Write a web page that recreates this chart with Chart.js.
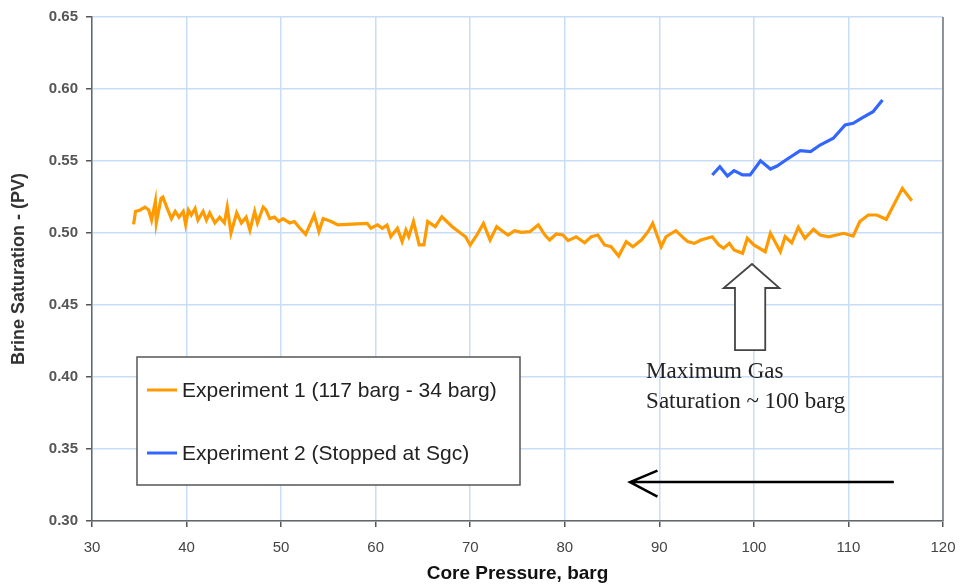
<!DOCTYPE html>
<html>
<head>
<meta charset="utf-8">
<script src="https://cdn.jsdelivr.net/npm/chart.js@4"></script>
<style>
  body { margin: 0; background: #fff; }
  #wrap { width: 960px; height: 585px; position: relative; }
</style>
</head>
<body>
<div id="wrap"><canvas id="satChart"></canvas></div>
<script>
// Experiment 1 (117 barg - 34 barg)
const pressure1 = [34.4, 34.6, 35.1, 35.6, 36.0, 36.3, 36.7, 36.8, 37.3, 37.5, 37.9, 38.4, 38.8, 39.2, 39.65, 39.9,
  40.2, 40.5, 40.9, 41.2, 41.75, 42.1, 42.45, 43.0, 43.5, 44.0, 44.3, 44.7, 45.3, 45.8, 46.3, 46.7, 47.2, 47.5,
  48.1, 48.4, 48.8, 49.3, 49.75, 50.2, 50.9, 51.4, 51.9, 52.6, 53.5, 54.0, 54.45, 55.3, 56.0, 59.1, 59.5, 60.2,
  60.7, 61.2, 61.6, 62.3, 62.8, 63.2, 63.5, 64.0, 64.6, 65.1, 65.5, 66.3, 67.0, 68.1, 69.0, 69.5, 70.0, 70.7,
  71.4, 72.1, 72.8, 73.5, 74.0, 74.7, 75.4, 76.3, 77.2, 77.9, 78.4, 79.1, 79.8, 80.35, 81.2, 82.1, 82.8, 83.5,
  84.2, 84.9, 85.7, 86.5, 87.2, 88.1, 88.8, 89.3, 90.2, 90.7, 91.75, 92.6, 93.0, 93.7, 94.4, 95.6, 96.3, 96.8,
  97.4, 97.9, 98.8, 99.3, 100.0, 101.2, 101.75, 102.8, 103.3, 104.0, 104.7, 105.4, 106.3, 107.0, 107.9, 109.5,
  110.5, 111.2, 112.1, 113.0, 114.0, 115.7, 116.7];
const saturation1 = [0.506, 0.515, 0.516, 0.518, 0.516, 0.509, 0.522, 0.507, 0.524, 0.525, 0.518, 0.510, 0.515, 0.511, 0.515, 0.506,
  0.516, 0.5125, 0.517, 0.509, 0.515, 0.509, 0.514, 0.507, 0.511, 0.507, 0.518, 0.500, 0.514, 0.507, 0.511, 0.502, 0.515, 0.507,
  0.518, 0.516, 0.510, 0.511, 0.508, 0.510, 0.507, 0.508, 0.504, 0.499, 0.5125, 0.501, 0.510, 0.508, 0.5056, 0.5067, 0.5033, 0.5056,
  0.5033, 0.5056, 0.4974, 0.5033, 0.494, 0.502, 0.4974, 0.508, 0.4917, 0.4917, 0.508, 0.5044, 0.5113, 0.5044, 0.4998, 0.4974, 0.4917, 0.4986,
  0.5067, 0.4951, 0.5044, 0.5009, 0.4986, 0.5016, 0.5005, 0.5009, 0.5056, 0.4986, 0.4951, 0.4993, 0.4986, 0.4947, 0.4974, 0.4932, 0.4974, 0.4986,
  0.4917, 0.4905, 0.484, 0.494, 0.4905, 0.4951, 0.5009, 0.5067, 0.4905, 0.4974, 0.5016, 0.4963, 0.494, 0.4928, 0.4951, 0.4974, 0.4917, 0.4894,
  0.4928, 0.4882, 0.4859, 0.4963, 0.4917, 0.487, 0.4998, 0.487, 0.4974, 0.4932, 0.504, 0.4963, 0.5026, 0.4986, 0.4974, 0.4998,
  0.4979, 0.508, 0.5125, 0.5125, 0.5095, 0.531, 0.5224];

// Experiment 2 (Stopped at Sgc)
const pressure2 = [95.6, 96.4, 97.2, 97.9, 98.8, 99.6, 100.7, 101.75, 102.45, 103.5, 104.9, 106.0, 107.0, 108.4,
  109.65, 110.5, 111.4, 112.6, 113.6];
const saturation2 = [0.5403, 0.546, 0.5396, 0.5433, 0.5403, 0.5403, 0.5502, 0.5444, 0.5465, 0.5512, 0.5572, 0.5565,
  0.5611, 0.5658, 0.575, 0.5762, 0.5797, 0.5842, 0.5924];

const seriesNames = ['Experiment 1 (117 barg - 34 barg)', 'Experiment 2 (Stopped at Sgc)'];
const seriesColors = ['#ff9a00', '#3366ff'];

const xTitle = 'Core Pressure, barg';
const yTitle = 'Brine Saturation - (PV)';
const noteLines = ['Maximum Gas', 'Saturation ~ 100 barg'];

const toPoints = (xs, ys) => xs.map((x, i) => ({ x: x, y: ys[i] }));

const sans = "'Liberation Sans', Arial, sans-serif";

// legend box, annotation arrows and note text drawn on top of the plot
const overlay = {
  id: 'overlay',
  afterDraw(chart) {
    const c = chart.ctx;
    const a = chart.chartArea;
    const sx = chart.scales.x, sy = chart.scales.y;
    const X = v => sx.getPixelForValue(v);
    const Y = v => sy.getPixelForValue(v);

    c.save();
    // right border
    c.strokeStyle = '#777';
    c.lineWidth = 1.5;
    c.beginPath();
    c.moveTo(a.right, a.top);
    c.lineTo(a.right, a.bottom);
    c.stroke();

    // legend
    const lx = 137, ly = 357, lw = 383, lh = 128;
    c.fillStyle = '#fff';
    c.fillRect(lx, ly, lw, lh);
    c.strokeStyle = '#555';
    c.lineWidth = 1.5;
    c.strokeRect(lx, ly, lw, lh);
    c.font = '21px ' + sans;
    c.textBaseline = 'middle';
    seriesNames.forEach((name, i) => {
      const yy = 390 + i * 63;
      c.strokeStyle = seriesColors[i];
      c.lineWidth = 3;
      c.beginPath();
      c.moveTo(147, yy);
      c.lineTo(177, yy);
      c.stroke();
      c.fillStyle = '#222';
      c.fillText(name, 182, yy + 1);
    });

    // hollow up arrow
    c.strokeStyle = '#444';
    c.lineWidth = 1.8;
    c.fillStyle = '#fff';
    c.beginPath();
    c.moveTo(X(99.8), Y(0.4785));
    c.lineTo(X(102.7), Y(0.4618));
    c.lineTo(X(101.2), Y(0.4618));
    c.lineTo(X(101.2), Y(0.4187));
    c.lineTo(X(98.0), Y(0.4187));
    c.lineTo(X(98.0), Y(0.4618));
    c.lineTo(X(96.8), Y(0.4618));
    c.closePath();
    c.fill();
    c.stroke();

    // note
    c.fillStyle = '#222';
    c.font = "23px 'Liberation Serif', 'Times New Roman', serif";
    c.textBaseline = 'alphabetic';
    c.fillText(noteLines[0], X(88.6), Y(0.3993));
    c.fillText(noteLines[1], X(88.6), Y(0.3785));

    // black left arrow
    c.strokeStyle = '#000';
    c.lineWidth = 2.5;
    c.beginPath();
    c.moveTo(X(114.8), Y(0.327));
    c.lineTo(X(86.9), Y(0.327));
    c.moveTo(X(89.8), Y(0.335));
    c.lineTo(X(86.9), Y(0.327));
    c.lineTo(X(89.8), Y(0.317));
    c.stroke();
    c.restore();
  }
};

new Chart(document.getElementById('satChart'), {
  type: 'scatter',
  data: {
    datasets: [
      {
        label: seriesNames[0],
        data: toPoints(pressure1, saturation1),
        showLine: true,
        borderColor: seriesColors[0],
        borderWidth: 3.2,
        pointRadius: 0,
        tension: 0
      },
      {
        label: seriesNames[1],
        data: toPoints(pressure2, saturation2),
        showLine: true,
        borderColor: seriesColors[1],
        borderWidth: 3.2,
        pointRadius: 0,
        tension: 0
      }
    ]
  },
  options: {
    responsive: true,
    maintainAspectRatio: false,
    animation: false,
    layout: { padding: { top: 17, right: 0, left: 0, bottom: 0 } },
    plugins: {
      legend: { display: false },
      tooltip: { enabled: false }
    },
    scales: {
      x: {
        type: 'linear',
        min: 30,
        max: 120,
        afterFit: s => { s.height = 64; s.paddingLeft = 0; s.paddingRight = 17; },
        ticks: {
          stepSize: 10,
          color: '#444',
          font: { family: sans, size: 15 },
          padding: 12,
          maxRotation: 0
        },
        grid: { color: '#c8ddf6', lineWidth: 1.5, tickColor: '#555', tickLength: 6 },
        border: { color: '#666', width: 1.5 },
        title: {
          display: true,
          text: xTitle,
          color: '#111',
          font: { family: sans, size: 19, weight: 'bold' },
          padding: { top: 0, bottom: 0 }
        }
      },
      y: {
        min: 0.30,
        max: 0.65,
        afterFit: s => { s.width = 92; },
        ticks: {
          stepSize: 0.05,
          color: '#555',
          font: { family: sans, size: 15, weight: 'bold' },
          padding: 8,
          callback: v => v.toFixed(2)
        },
        grid: { color: '#c8ddf6', lineWidth: 1.5, tickColor: '#555', tickLength: 6 },
        border: { color: '#666', width: 1.5 },
        title: {
          display: true,
          text: yTitle,
          color: '#333',
          font: { family: sans, size: 18, weight: 'bold' },
          padding: { top: 8, bottom: 4 }
        }
      }
    }
  },
  plugins: [overlay]
});
</script>
</body>
</html>
